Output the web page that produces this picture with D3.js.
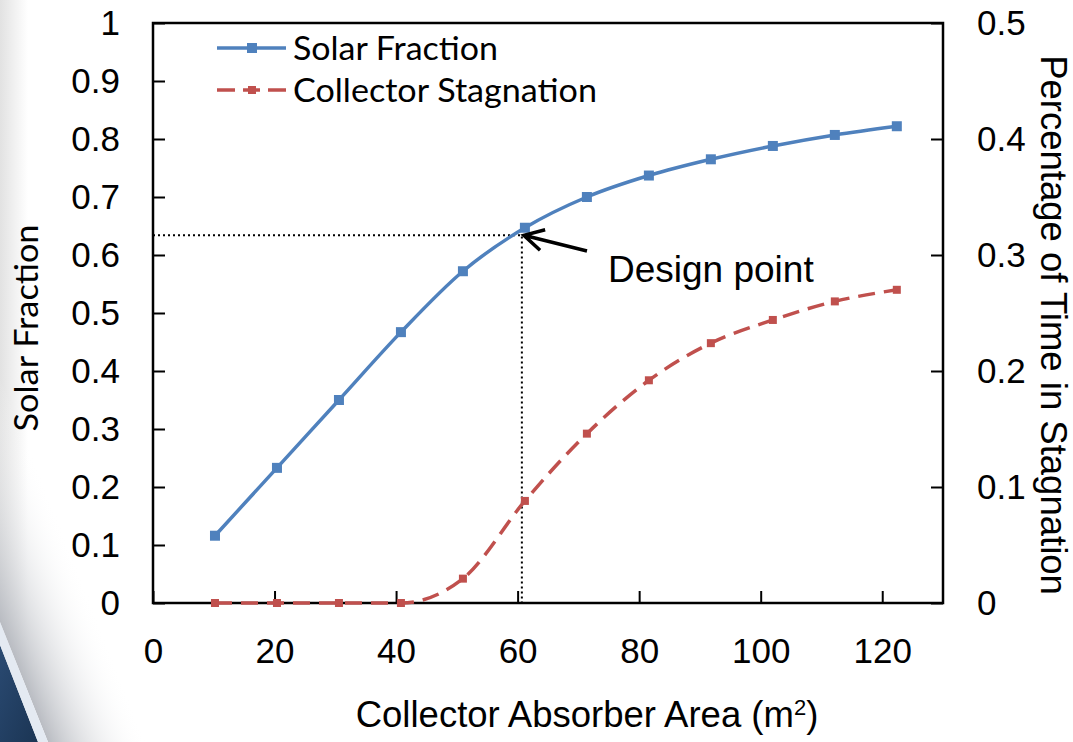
<!DOCTYPE html>
<meta charset="utf-8">
<style>
body { margin: 0; background: #fff; }
svg { display: block; }
.tick text { font-family: "Liberation Sans", Arial, sans-serif; font-size: 35px; fill: #000; }
.tick line { stroke: #000; stroke-width: 2px; }
.frame { fill: none; stroke: #000; stroke-width: 2.5px; }
.title { font-family: "Liberation Sans", Arial, sans-serif; font-size: 36.5px; fill: #000; }
.calibri { font-family: Lato, "Open Sans", sans-serif; font-size: 32px; fill: #000; }
.guide { fill: none; stroke: #000; stroke-width: 2px; stroke-dasharray: 2,3; }
</style>
<svg width="1073" height="742"></svg>
<script src="https://d3js.org/d3.v7.min.js"></script>
<script>

// collector absorber area (m2)
var areas = [10.2, 20.4, 30.6, 40.8, 51, 61.2, 71.4, 81.6, 91.8, 102, 112.2, 122.4];
// solar fraction (left axis)
var solarFraction = [0.116, 0.233, 0.35, 0.467, 0.572, 0.647, 0.7, 0.737, 0.765, 0.788, 0.807, 0.822];
// fraction of time in stagnation (right axis)
var stagnation = [0, 0, 0, 0, 0.021, 0.088, 0.146, 0.192, 0.224, 0.244, 0.26, 0.27];

var xTicks = [0, 20, 40, 60, 80, 100, 120];
var leftTicks = [0, 0.1, 0.2, 0.3, 0.4, 0.5, 0.6, 0.7, 0.8, 0.9, 1];
var rightTicks = [0, 0.1, 0.2, 0.3, 0.4, 0.5];

var seriesNames = ["Solar Fraction", "Collector Stagnation"];
var designPoint = { x: 60.7, y: 0.634 };

var svg = d3.select("svg"),
    width = +svg.attr("width"),
    height = +svg.attr("height");

var margin = { top: 23, right: 130, bottom: 139, left: 153 };

var x = d3.scaleLinear().domain([0, 130]).range([margin.left, width - margin.right]);
var yL = d3.scaleLinear().domain([0, 1]).range([height - margin.bottom, margin.top]);
var yR = d3.scaleLinear().domain([0, 0.5]).range([height - margin.bottom, margin.top]);

// background decoration at the bottom left
var defs = svg.append("defs");
var edge = defs.append("linearGradient").attr("id", "edge");
edge.append("stop").attr("offset", 0).attr("stop-color", "#e2e2e2");
edge.append("stop").attr("offset", 1).attr("stop-color", "#fff");
var shade = defs.append("linearGradient").attr("id", "shade")
    .attr("gradientUnits", "userSpaceOnUse")
    .attr("x1", 24).attr("y1", 682).attr("x2", 110).attr("y2", 648);
shade.append("stop").attr("offset", 0).attr("stop-color", "#b9bcc2");
shade.append("stop").attr("offset", 1).attr("stop-color", "#fff").attr("stop-opacity", 0);
var blue = defs.append("linearGradient").attr("id", "blue")
    .attr("x1", 0).attr("y1", 0).attr("x2", 1).attr("y2", 1);
blue.append("stop").attr("offset", 0).attr("stop-color", "#2a4a72");
blue.append("stop").attr("offset", 1).attr("stop-color", "#1b3554");

svg.append("rect").attr("width", 28).attr("height", height).attr("fill", "url(#edge)");
svg.append("path").attr("d", "M0,380L0,622L48,742L160,742Z").attr("fill", "url(#shade)");
svg.append("path").attr("d", "M0,645L38,742L0,742Z").attr("fill", "url(#blue)");
svg.append("path").attr("d", "M0,622L48,742L38,742L0,645Z").attr("fill", "#e4eaf2");

// axes with inward ticks
svg.append("g")
    .attr("transform", "translate(" + margin.left + ",0)")
    .call(d3.axisLeft(yL).tickValues(leftTicks).tickFormat(function(d) { return String(d); })
      .tickSizeInner(-12).tickSizeOuter(0).tickPadding(33))
    .call(function(g) { g.select(".domain").remove(); });

svg.append("g")
    .attr("transform", "translate(" + (width - margin.right) + ",0)")
    .call(d3.axisRight(yR).tickValues(rightTicks).tickFormat(function(d) { return String(d); })
      .tickSizeInner(-12).tickSizeOuter(0).tickPadding(34))
    .call(function(g) { g.select(".domain").remove(); });

svg.append("g")
    .attr("transform", "translate(0," + (height - margin.bottom) + ")")
    .call(d3.axisBottom(x).tickValues(xTicks).tickFormat(function(d) { return String(d); })
      .tickSizeInner(-12).tickSizeOuter(0).tickPadding(35))
    .call(function(g) { g.select(".domain").remove(); });

svg.selectAll(".tick text").attr("font-family", null).attr("font-size", null);

svg.append("rect")
    .attr("class", "frame")
    .attr("x", x(0)).attr("y", yL(1))
    .attr("width", x(130) - x(0)).attr("height", yL(0) - yL(1));

// design point guides
svg.append("path")
    .attr("class", "guide")
    .attr("d", "M" + x(0) + "," + yL(designPoint.y) + "H" + x(designPoint.x) + "V" + yL(0));

// series
var solarLine = d3.line()
    .x(function(d, i) { return x(areas[i]); })
    .y(function(d) { return yL(d); })
    .curve(d3.curveCardinal.tension(0));

var stagLine = d3.line()
    .x(function(d, i) { return x(areas[i]); })
    .y(function(d) { return yR(d); })
    .curve(d3.curveMonotoneX);

svg.append("path")
    .datum(stagnation)
    .attr("fill", "none")
    .attr("stroke", "#c0504d")
    .attr("stroke-width", 3.5)
    .attr("stroke-dasharray", "17,9")
    .attr("d", stagLine);

svg.selectAll("rect.stag")
    .data(stagnation)
  .enter().append("rect")
    .attr("class", "stag")
    .attr("x", function(d, i) { return x(areas[i]) - 4; })
    .attr("y", function(d) { return yR(d) - 4; })
    .attr("width", 8).attr("height", 8)
    .attr("fill", "#c0504d");

svg.append("path")
    .datum(solarFraction)
    .attr("fill", "none")
    .attr("stroke", "#4f81bd")
    .attr("stroke-width", 3.5)
    .attr("d", solarLine);

svg.selectAll("rect.solar")
    .data(solarFraction)
  .enter().append("rect")
    .attr("class", "solar")
    .attr("x", function(d, i) { return x(areas[i]) - 5; })
    .attr("y", function(d) { return yL(d) - 5; })
    .attr("width", 10).attr("height", 10)
    .attr("fill", "#4f81bd");

// annotation arrow
var tip = [x(designPoint.x) + 2, yL(designPoint.y)],
    tail = [587, 251],
    ang = Math.atan2(tail[1] - tip[1], tail[0] - tip[0]),
    arm = 22, spread = 0.5;
svg.append("path")
    .attr("fill", "none")
    .attr("stroke", "#000")
    .attr("stroke-width", 3.5)
    .attr("d", "M" + tail + "L" + tip +
      "M" + [tip[0] + arm * Math.cos(ang - spread), tip[1] + arm * Math.sin(ang - spread)] +
      "L" + tip +
      "L" + [tip[0] + arm * Math.cos(ang + spread), tip[1] + arm * Math.sin(ang + spread)]);

svg.append("text")
    .attr("class", "title")
    .attr("x", 608).attr("y", 282)
    .style("font-size", "37px")
    .text("Design point");

// legend
var legend = svg.append("g");
var rows = [
  { name: seriesNames[0], color: "#4f81bd", dash: null, size: 10, y: 48, len: 205 },
  { name: seriesNames[1], color: "#c0504d", dash: "18,8,17,8,18", size: 8, y: 90, len: 304 }
];
rows.forEach(function(r) {
  legend.append("line")
      .attr("x1", 217).attr("x2", 286).attr("y1", r.y).attr("y2", r.y)
      .attr("stroke", r.color).attr("stroke-width", 3.5)
      .attr("stroke-dasharray", r.dash);
  legend.append("rect")
      .attr("x", 252 - r.size / 2).attr("y", r.y - r.size / 2)
      .attr("width", r.size).attr("height", r.size)
      .attr("fill", r.color);
  legend.append("text")
      .attr("class", "calibri")
      .attr("x", 293).attr("y", r.y + 12)
      .attr("textLength", r.len).attr("lengthAdjust", "spacingAndGlyphs")
      .text(r.name);
});

// axis titles
svg.append("text")
    .attr("class", "calibri")
    .attr("transform", "translate(38,328) rotate(-90)")
    .attr("text-anchor", "middle")
    .attr("textLength", 207).attr("lengthAdjust", "spacingAndGlyphs")
    .text("Solar Fraction");

svg.append("text")
    .attr("class", "title")
    .attr("transform", "translate(1041,325) rotate(90)")
    .attr("text-anchor", "middle")
    .text("Percentage of Time in Stagnation");

var xt = svg.append("text")
    .attr("class", "title")
    .attr("x", 587).attr("y", 727)
    .attr("text-anchor", "middle");
xt.append("tspan").text("Collector Absorber Area (m");
xt.append("tspan").attr("dy", -12).style("font-size", "22px").text("2");
xt.append("tspan").attr("dy", 12).text(")");

</script>
